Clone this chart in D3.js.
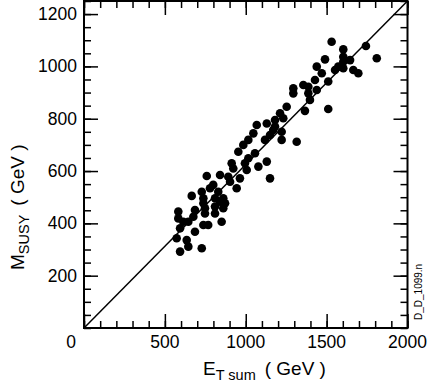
<!DOCTYPE html>
<html>
<head>
<meta charset="utf-8">
<script src="https://cdn.jsdelivr.net/npm/d3@7"></script>
<style>
  body { margin: 0; background: #fff; }
  svg text { font-family: "Liberation Sans", Arial, sans-serif; fill: #000; }
</style>
</head>
<body>
<svg id="chart"></svg>
<script>
// E_T sum (GeV) vs M_SUSY (GeV)
var etSum = [1531, 1743, 1603, 1603, 1645, 1810, 1490, 1603, 1439, 1572, 1603, 1552, 1665, 1470, 1696,
  1428, 1510, 1356, 1294, 1387, 1439, 1294, 1387, 1397, 1253, 1366, 1510, 1232,
  1212, 1181, 1130, 1068, 1181, 1170, 1047, 1222, 1150, 1119, 1222, 1016, 1315, 985, 954, 1057,
  1016, 1130, 1078, 1150,
  913, 995, 923, 1006, 759, 841, 892, 964, 903, 799, 779, 944, 728, 830, 666, 738, 810, 861,
  841, 872, 738, 748, 810, 861, 583, 686, 748, 810, 583, 676, 851, 614, 738, 768, 645, 594,
  686, 573, 635, 645, 728, 594];
var mSusy = [1094, 1078, 1065, 1037, 1024, 1031, 1027, 1018, 999, 999, 993, 986, 986, 974, 974,
  948, 942, 929, 916, 922, 910, 897, 897, 872, 846, 830, 837, 802,
  821, 795, 782, 776, 770, 757, 744, 750, 738, 719, 719, 719, 712, 700, 674, 668,
  649, 636, 617, 572,
  630, 630, 610, 604, 581, 585, 578, 572, 559, 547, 534, 534, 521, 521, 505, 496, 496, 496,
  483, 477, 477, 458, 464, 458, 445, 451, 438, 438, 419, 425, 406, 406, 394, 394, 406, 381,
  368, 343, 336, 311, 305, 292];

var xMajor = [0, 500, 1000, 1500, 2000];
var yMajor = [200, 400, 600, 800, 1000, 1200];

var width = 429, height = 384;
var plotL = 84, plotR = 407.5, plotT = 1, plotB = 328;

var svg = d3.select("#chart")
    .attr("width", width)
    .attr("height", height);

var xScale = d3.scaleLinear()
    .domain([0, 2000])
    .range([plotL, plotR]);

var yScale = d3.scaleLinear()
    .domain([0, 1250])
    .range([plotB, plotT]);

var xMinor = d3.range(0, 2001, 100);
var yMinor = d3.range(0, 1251, 50);

function styleAxis(g) {
    g.select(".domain").remove();
    g.selectAll("line").attr("stroke", "#000").attr("stroke-width", 1.5);
    g.selectAll("text").remove();
}

// minor + major ticks on all four sides, pointing inward
svg.append("g").attr("transform", "translate(0," + plotB + ")")
    .call(d3.axisBottom(xScale).tickValues(xMinor).tickSize(-7)).call(styleAxis);
svg.append("g").attr("transform", "translate(0," + plotB + ")")
    .call(d3.axisBottom(xScale).tickValues(xMajor).tickSize(-14)).call(styleAxis);
svg.append("g").attr("transform", "translate(0," + plotT + ")")
    .call(d3.axisTop(xScale).tickValues(xMinor).tickSize(-7)).call(styleAxis);
svg.append("g").attr("transform", "translate(0," + plotT + ")")
    .call(d3.axisTop(xScale).tickValues(xMajor).tickSize(-14)).call(styleAxis);
svg.append("g").attr("transform", "translate(" + plotL + ",0)")
    .call(d3.axisLeft(yScale).tickValues(yMinor).tickSize(-7)).call(styleAxis);
svg.append("g").attr("transform", "translate(" + plotL + ",0)")
    .call(d3.axisLeft(yScale).tickValues(yMajor).tickSize(-14)).call(styleAxis);
svg.append("g").attr("transform", "translate(" + plotR + ",0)")
    .call(d3.axisRight(yScale).tickValues(yMinor).tickSize(-7)).call(styleAxis);
svg.append("g").attr("transform", "translate(" + plotR + ",0)")
    .call(d3.axisRight(yScale).tickValues(yMajor).tickSize(-14)).call(styleAxis);

// frame
svg.append("rect")
    .attr("x", plotL).attr("y", plotT)
    .attr("width", plotR - plotL).attr("height", plotB - plotT)
    .attr("fill", "none").attr("stroke", "#000").attr("stroke-width", 2);

// tick labels
svg.selectAll(".xlab")
    .data(xMajor)
    .enter()
    .append("text")
    .attr("class", "xlab")
    .attr("x", function (d) { return d == 0 ? xScale(d) - 13 : xScale(d); })
    .attr("y", 348)
    .attr("text-anchor", "middle")
    .attr("font-size", 17.5)
    .text(function (d) { return d; });

svg.selectAll(".ylab")
    .data(yMajor)
    .enter()
    .append("text")
    .attr("class", "ylab")
    .attr("x", 77)
    .attr("y", function (d) { return yScale(d) + 6; })
    .attr("text-anchor", "end")
    .attr("font-size", 17.5)
    .text(function (d) { return d; });

// diagonal line
svg.append("line")
    .attr("x1", xScale(0)).attr("y1", yScale(0))
    .attr("x2", xScale(2000)).attr("y2", yScale(1250))
    .attr("stroke", "#000").attr("stroke-width", 1.5);

// points
svg.selectAll("circle")
    .data(etSum)
    .enter()
    .append("circle")
    .attr("cx", function (d) { return xScale(d); })
    .attr("cy", function (d, i) { return yScale(mSusy[i]); })
    .attr("r", 4.3)
    .attr("fill", "#000");

// axis titles
var xt = svg.append("text")
    .attr("x", 203).attr("y", 375)
    .attr("font-size", 19);
xt.append("tspan").text("E");
xt.append("tspan").attr("dy", 5).attr("font-size", 14.5).text("T sum");
xt.append("tspan").attr("dy", -5).attr("dx", 9).text("( GeV )");

var yt = svg.append("text")
    .attr("transform", "translate(24,270) rotate(-90)")
    .attr("font-size", 19);
yt.append("tspan").text("M");
yt.append("tspan").attr("dy", 5).attr("font-size", 14.5).text("SUSY");
yt.append("tspan").attr("dy", -5).attr("dx", 9).text("( GeV )");

svg.append("text")
    .attr("transform", "translate(422,320) rotate(-90)")
    .attr("font-size", 10)
    .text("D_D_1099.n");
</script>
</body>
</html>
